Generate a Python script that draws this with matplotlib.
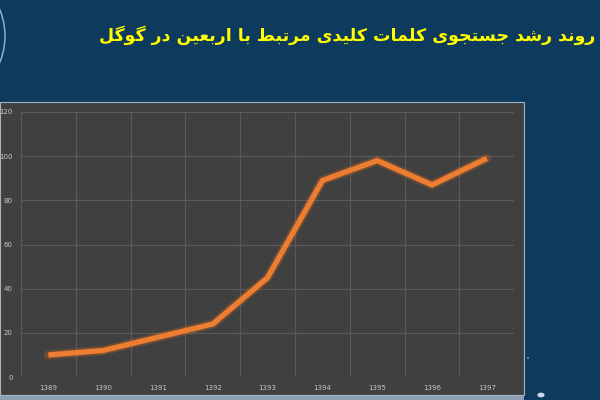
import matplotlib
matplotlib.use('Agg')
import matplotlib.pyplot as plt
from matplotlib.patches import Rectangle, Arc, Circle
import numpy as np

# data
years = ['1389', '1390', '1391', '1392', '1393', '1394', '1395', '1396', '1397']
values = [10, 12, 18, 24, 45, 89, 98, 87, 99]
y_ticks = [0, 20, 40, 60, 80, 100, 120]

title = 'روند رشد جستجوی کلمات کلیدی مرتبط با اربعین در گوگل'

# tiny persian shaper (matplotlib has no bidi / shaping)
# letter: (isolated, final, initial, medial)
dual = {
    'ب': '\uFE8F\uFE90\uFE91\uFE92', 'ت': '\uFE95\uFE96\uFE97\uFE98',
    'ج': '\uFE9D\uFE9E\uFE9F\uFEA0', 'س': '\uFEB1\uFEB2\uFEB3\uFEB4',
    'ش': '\uFEB5\uFEB6\uFEB7\uFEB8', 'ط': '\uFEC1\uFEC2\uFEC3\uFEC4',
    'ع': '\uFEC9\uFECA\uFECB\uFECC', 'ل': '\uFEDD\uFEDE\uFEDF\uFEE0',
    'م': '\uFEE1\uFEE2\uFEE3\uFEE4', 'ن': '\uFEE5\uFEE6\uFEE7\uFEE8',
    'ی': '\uFBFC\uFBFD\uFBFE\uFBFF', 'ک': '\uFB8E\uFB8F\uFB90\uFB91',
    'گ': '\uFB92\uFB93\uFB94\uFB95',
}
right = {
    'ا': '\uFE8D\uFE8E', 'د': '\uFEA9\uFEAA', 'ر': '\uFEAD\uFEAE',
    'و': '\uFEED\uFEEE',
}


def shape(s):
    out = []
    for i, ch in enumerate(s):
        prev = s[i - 1] if i > 0 else ' '
        nxt = s[i + 1] if i + 1 < len(s) else ' '
        before = prev in dual
        after = nxt in dual or nxt in right
        if ch in dual:
            f = dual[ch]
            if before and after:
                out.append(f[3])
            elif before:
                out.append(f[1])
            elif after:
                out.append(f[2])
            else:
                out.append(f[0])
        elif ch in right:
            f = right[ch]
            out.append(f[1] if before else f[0])
        else:
            out.append(ch)
    return ''.join(out[::-1])


navy = '#0d3a5d'
panel = '#404040'

fig = plt.figure(figsize=(6, 4), dpi=100, facecolor=navy)

# gray panel behind the chart + light strip under it
fig.patches.append(Rectangle((0, 0.0), 0.873, 0.012, transform=fig.transFigure,
                             facecolor='#8da0b2', edgecolor='none', zorder=-2))
fig.patches.append(Rectangle((0, 0.012), 0.873, 0.733, transform=fig.transFigure,
                             facecolor=panel, edgecolor='#9fb4c6', lw=0.8, zorder=-2))

# decoration: arc at top left, dots at right
fig.patches.append(Arc((-65 / 600, 1 - 36 / 400), 140 / 600, 140 / 400, theta1=-40, theta2=40,
                       transform=fig.transFigure, color='#9cbad6', lw=1.0, zorder=-2))
fig.patches.append(Circle((541 / 600, 1 - 395 / 400), 0.006, transform=fig.transFigure,
                          facecolor='#c8d8e8', edgecolor='none', zorder=-2))
fig.patches.append(Circle((528 / 600, 1 - 358 / 400), 0.002, transform=fig.transFigure,
                          facecolor='#7f9fbf', edgecolor='none', zorder=-2))

fig.text(0.992, 0.912, shape(title), color='#ffff00', fontsize=12.5, fontweight='bold',
         family=['DejaVu Sans'], ha='right', va='center')

ax = fig.add_axes([0.035, 0.0575, 0.822, 0.6625])
ax.set_facecolor(panel)
x = np.arange(len(years))

# soft glow under the line
ax.plot(x, values, color='#d86a1c', lw=6.5, alpha=0.3, solid_capstyle='round',
        solid_joinstyle='miter', zorder=3)
ax.plot(x, values, color='#ed7d31', lw=3.8, solid_capstyle='butt',
        solid_joinstyle='miter', zorder=4)

ax.set_xlim(-0.5, len(years) - 0.5)
ax.set_ylim(0, 120)
ax.set_yticks(y_ticks)
ax.set_xticks(x)
ax.set_xticklabels(years)
ax.set_xticks(np.arange(-0.5, len(years), 1), minor=True)

ax.grid(True, which='minor', axis='x', color='#5a5a5a', lw=0.8)
ax.grid(True, which='major', axis='y', color='#5a5a5a', lw=0.8)
ax.set_axisbelow(True)
for s in ax.spines.values():
    s.set_visible(False)
ax.tick_params(which='both', length=0, labelsize=5, colors='#c8c8c8')
ax.tick_params(axis='y', pad=6)
ax.tick_params(axis='x', pad=6)

fig.savefig('out.png', dpi=100, facecolor=navy)
